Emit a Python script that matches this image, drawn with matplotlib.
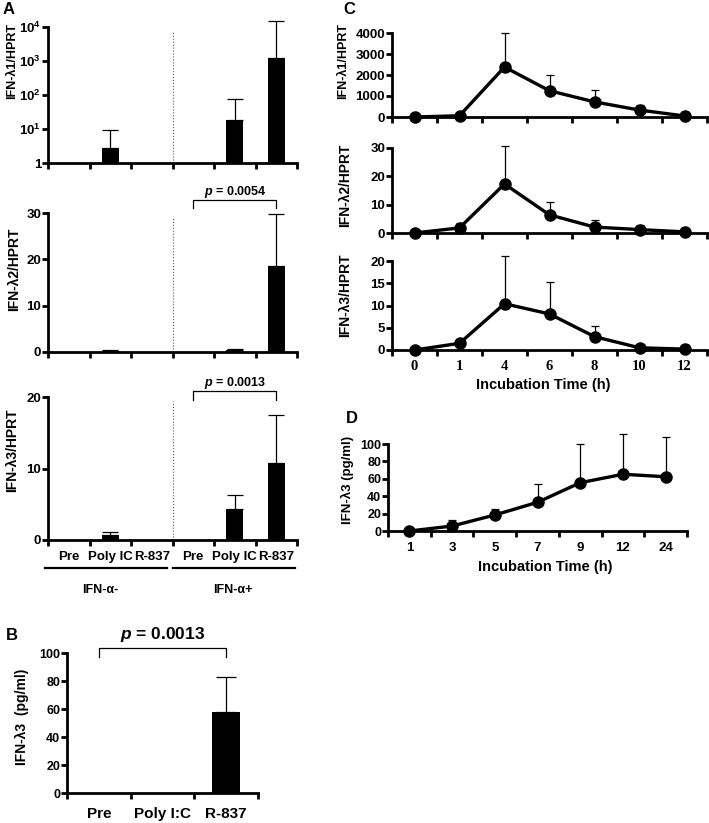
import numpy as np
import matplotlib
matplotlib.use("Agg")
import matplotlib.pyplot as plt
import matplotlib.transforms as mtransforms

plt.rcParams['font.family'] = ['Liberation Sans', 'DejaVu Sans']
plt.rcParams['font.weight'] = 'bold'
plt.rcParams['mathtext.fontset'] = 'custom'
plt.rcParams['mathtext.rm'] = 'Liberation Sans:bold'
plt.rcParams['mathtext.it'] = 'Liberation Sans:bold:italic'
plt.rcParams['mathtext.bf'] = 'Liberation Sans:bold'

W, H = 709, 823

# ---------- data ----------
# panel A: IFN-lambda mRNA / HPRT, IFN-alpha- and IFN-alpha+ groups
a_labels = ["Pre", "Poly IC", "R-837", "Pre", "Poly IC", "R-837"]
a_groups = ["IFN-α-", "IFN-α+"]
a_l1_mean = [0, 2.7, 0, 0, 18, 1200]
a_l1_sd = [0, 6.8, 0, 0, 57, 13800]
a_l2_mean = [0, 0.3, 0, 0, 0.4, 18.5]
a_l2_sd = [0, 0.2, 0, 0, 0.3, 11.3]
a_l3_mean = [0, 0.7, 0, 0, 4.3, 10.8]
a_l3_sd = [0, 0.4, 0, 0, 2.0, 6.7]
a_log_ticks = [1, 10, 100, 1000, 10000]
a_log_labels = ["1", r"$10^1$", r"$10^2$", r"$10^3$", r"$10^4$"]
a_pvals = ["0.0054", "0.0013"]

# panel B: IFN-lambda3 protein
b_labels = ["Pre", "Poly I:C", "R-837"]
b_mean = [0, 0, 58]
b_sd = [0, 0, 25]
b_pval = "0.0013"

# panel C: time course of mRNA
c_times = ["0", "1", "4", "6", "8", "10", "12"]
c_l1_mean = [0, 60, 2380, 1250, 720, 330, 50]
c_l1_sd = [0, 180, 1620, 750, 560, 250, 190]
c_l2_mean = [0, 1.8, 17.3, 6.4, 2.1, 1.2, 0.4]
c_l2_sd = [0, 1.7, 13.4, 4.5, 2.5, 1.6, 1.4]
c_l3_mean = [0, 1.5, 10.4, 8.1, 3.0, 0.5, 0.2]
c_l3_sd = [0, 1.0, 10.8, 7.1, 2.5, 0.6, 0.9]

# panel D: time course of protein
d_times = ["1", "3", "5", "7", "9", "12", "24"]
d_mean = [0, 5.7, 18.4, 33, 55.5, 65.2, 62.4]
d_sd = [0, 6.9, 7.2, 21, 44, 46, 46]


def rect(x0, y0, x1, y1):
    # pixel box (top-left origin) -> figure fraction
    return [x0 / W, 1 - y1 / H, (x1 - x0) / W, (y1 - y0) / H]


def ftext(x, y, s, **kw):
    fig.text(x / W, 1 - y / H, s, ha='center', va='center', fontweight='bold', **kw)


def style(ax, labels, size, pad, serif=False, ysize=9.5):
    n = len(labels)
    for s in ['top', 'right']:
        ax.spines[s].set_visible(False)
    for s in ['left', 'bottom']:
        ax.spines[s].set_linewidth(2.0)
    ax.set_xlim(-0.5, n - 0.5)
    ax.set_xticks(np.arange(n + 1) - 0.5)
    ax.set_xticklabels([])
    ax.set_xticks(np.arange(n), minor=True)
    ax.set_xticklabels(labels, minor=True, fontsize=size, fontweight='bold',
                       family='Liberation Serif' if serif else None)
    ax.tick_params(axis='x', which='minor', length=0, pad=pad)
    ax.tick_params(which='major', width=2.0, length=4, direction='out')
    ax.tick_params(axis='y', labelsize=ysize, pad=1)
    ax.tick_params(axis='y', which='minor', length=0)


def bars(ax, mean, sd, width, cap):
    x = np.arange(len(mean))
    m = np.array(mean, dtype=float)
    e = np.array(sd, dtype=float)
    keep = m > 0
    ax.bar(x[keep], m[keep], width=width, color='black', zorder=3)
    ax.errorbar(x[keep], m[keep], yerr=[np.zeros(keep.sum()), e[keep]], fmt='none',
                ecolor='black', elinewidth=0.9, capsize=cap, capthick=0.9,
                clip_on=False, zorder=2)


def line(ax, mean, sd):
    x = np.arange(len(mean))
    ax.errorbar(x, mean, yerr=[np.zeros(len(sd)), sd], fmt='none', ecolor='black',
                elinewidth=0.9, capsize=3, capthick=0.9, clip_on=False, zorder=2)
    ax.plot(x, mean, '-o', color='black', lw=2.4, ms=8, clip_on=False, zorder=3)


def bracket(ax, x0, x1, ytop, yleg, ytxt, text, size):
    ax.plot([x0, x0, x1, x1], [yleg, ytop, ytop, yleg], color='black', lw=0.9,
            clip_on=False)
    ax.text((x0 + x1) / 2, ytxt, text, ha='center', va='center', fontsize=size,
            fontweight='bold')


fig = plt.figure(figsize=(W / 100, H / 100), dpi=100)

# ---------- A ----------
axA1 = fig.add_axes(rect(48, 27, 297, 163))
axA1.set_yscale('log', nonpositive='clip')
bars(axA1, a_l1_mean, a_l1_sd, 0.42, 6)
axA1.set_ylim(1, 1e4)
axA1.set_yticks(a_log_ticks)
axA1.set_yticklabels(a_log_labels)
style(axA1, [""] * 6, 9, 8)

axA2 = fig.add_axes(rect(48, 213, 297, 352))
bars(axA2, a_l2_mean, a_l2_sd, 0.42, 6)
axA2.set_ylim(0, 30)
axA2.set_yticks([0, 10, 20, 30])
style(axA2, [""] * 6, 9, 8)
bracket(axA2, 3, 5, 32.8, 31.1, 34.6, r"$p$ = " + a_pvals[0], 9)

axA3 = fig.add_axes(rect(48, 397, 297, 540))
bars(axA3, a_l3_mean, a_l3_sd, 0.42, 6)
axA3.set_ylim(0, 20)
axA3.set_yticks([0, 10, 20])
style(axA3, a_labels, 9.5, 8)
bracket(axA3, 3, 5, 20.85, 19.6, 22.0, r"$p$ = " + a_pvals[1], 9)

for ax in (axA1, axA2, axA3):
    ax.axvline(2.5, ymin=0, ymax=0.97, color='0.35', lw=0.8, ls=':', zorder=1)

tr = mtransforms.blended_transform_factory(axA3.transData, axA3.transAxes)
axA3.plot([-0.57, 2.37], [-0.196, -0.196], color='black', lw=1.6, transform=tr,
          clip_on=False)
axA3.plot([2.52, 5.45], [-0.196, -0.196], color='black', lw=1.6, transform=tr,
          clip_on=False)
axA3.text(0.75, -0.35, a_groups[0], transform=tr, ha='center', va='center',
          fontsize=9, fontweight='bold')
axA3.text(3.95, -0.35, a_groups[1], transform=tr, ha='center', va='center',
          fontsize=9, fontweight='bold')

ftext(12, 61, "IFN-λ1/HPRT", rotation=90, fontsize=9)
ftext(14, 269, "IFN-λ2/HPRT", rotation=90, fontsize=10)
ftext(12, 450, "IFN-λ3/HPRT", rotation=90, fontsize=10)
ftext(9, 10, "A", fontsize=12)

# ---------- B ----------
axB = fig.add_axes(rect(67, 653, 258, 793))
bars(axB, b_mean, b_sd, 0.45, 7.5)
axB.set_ylim(0, 100)
axB.set_yticks(np.arange(0, 101, 20))
style(axB, b_labels, 11, 10, ysize=9)
bracket(axB, 0, 2, 103.6, 97.1, 113.0, r"$p$ = " + b_pval, 12.5)
ftext(22, 717, "IFN-λ3  (pg/ml)", rotation=90, fontsize=10)
ftext(12, 635, "B", fontsize=12)

# ---------- C ----------
axC1 = fig.add_axes(rect(392, 33, 707, 117))
line(axC1, c_l1_mean, c_l1_sd)
axC1.set_ylim(0, 4000)
axC1.set_yticks(np.arange(0, 4001, 1000))
style(axC1, [""] * 7, 10, 7)

axC2 = fig.add_axes(rect(392, 148, 707, 233))
line(axC2, c_l2_mean, c_l2_sd)
axC2.set_ylim(0, 30)
axC2.set_yticks([0, 10, 20, 30])
style(axC2, [""] * 7, 10, 7)

axC3 = fig.add_axes(rect(392, 261, 707, 350))
line(axC3, c_l3_mean, c_l3_sd)
axC3.set_ylim(0, 20)
axC3.set_yticks([0, 5, 10, 15, 20])
style(axC3, c_times, 10.5, 7, serif=True)

ftext(343, 61, "IFN-λ1/HPRT", rotation=90, fontsize=9)
ftext(345, 185, "IFN-λ2/HPRT", rotation=90, fontsize=10)
ftext(345, 295, "IFN-λ3/HPRT", rotation=90, fontsize=10)
ftext(543, 385, "Incubation Time (h)", fontsize=10.5)
ftext(349, 10, "C", fontsize=12)

# ---------- D ----------
axD = fig.add_axes(rect(388, 444, 687, 531))
line(axD, d_mean, d_sd)
axD.set_ylim(0, 100)
axD.set_yticks(np.arange(0, 101, 20))
style(axD, d_times, 9.5, 8, ysize=9)
ftext(347, 480, "IFN-λ3 (pg/ml)", rotation=90, fontsize=9.5)
ftext(545, 567, "Incubation Time (h)", fontsize=10.5)
ftext(352, 418, "D", fontsize=12)

fig.savefig("out.png", dpi=100)
